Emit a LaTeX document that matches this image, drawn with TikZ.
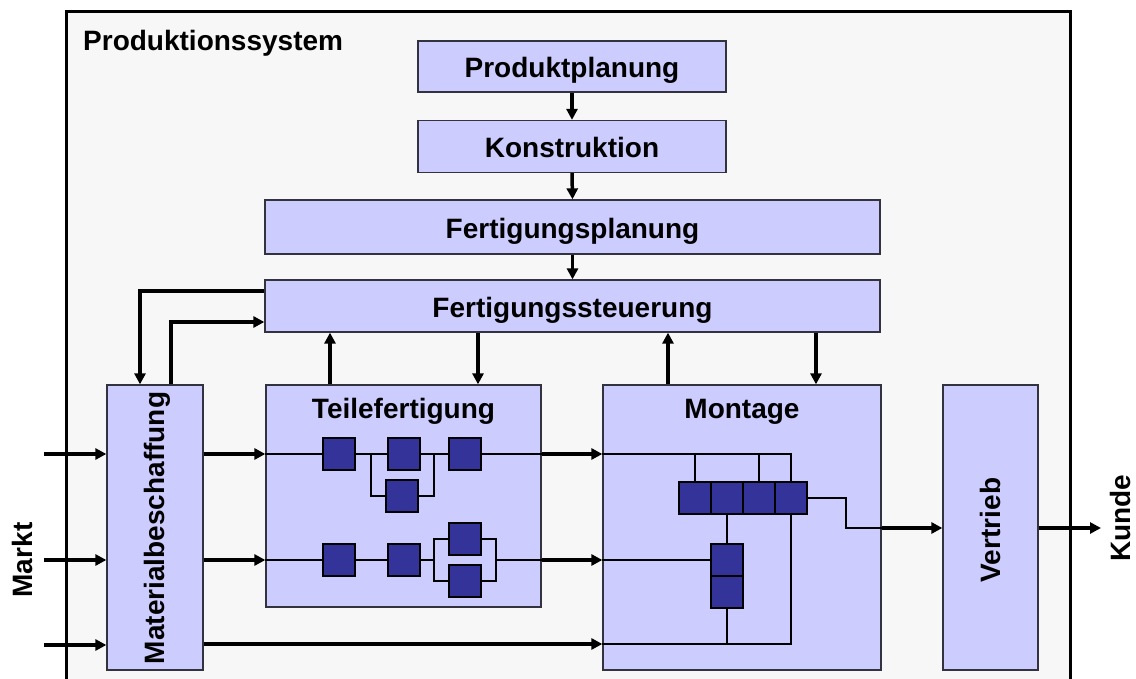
\documentclass[tikz,border=0pt]{standalone}
\usepackage{fontspec}
\setmainfont{Liberation Sans}
\usetikzlibrary{arrows.meta}
\definecolor{lavender}{HTML}{CCCCFF}
\definecolor{cellblue}{HTML}{333399}
\definecolor{sysbg}{HTML}{F7F7F7}
\definecolor{edge}{HTML}{333340}
\newcommand{\lblfont}{\fontsize{28}{31}\selectfont\bfseries}
\tikzset{
  unit/.style={draw=edge, line width=1.3pt, fill=lavender, inner sep=0pt, font=\lblfont,
    text height=25pt, text depth=2pt},
  cell/.style={draw=black, line width=1.2pt, fill=cellblue, minimum width=32pt, minimum height=32pt, inner sep=0pt},
  flow/.style={line width=3.5pt, -{Triangle[length=11pt,width=11pt]}},
  wire/.style={line width=1.4pt},
  caption/.style={font=\lblfont, inner sep=0pt}
}
\begin{document}
\begin{tikzpicture}[x=1pt,y=-1pt]
\useasboundingbox (0,0) rectangle (1136,679);
\clip (0,0) rectangle (1136,679);
\fill[white] (0,0) rectangle (1136,679);
% system frame
\draw[line width=3pt, fill=sysbg] (66,12) rectangle (1070,720);
\node[caption, anchor=base west] (sys) at (83,51) {Produktionssystem};

% planning chain
\node[unit, minimum width=308pt, minimum height=51pt] (pp) at (572,66.5) {Produktplanung};
\node[unit, minimum width=308pt, minimum height=52pt] (ko) at (572,146.5) {Konstruktion};
\node[unit, minimum width=615pt, minimum height=54pt] (fp) at (572.5,227) {Fertigungsplanung};
\node[unit, minimum width=615pt, minimum height=52pt] (fs) at (572.5,306) {Fertigungssteuerung};

% operational units
\node[unit, minimum width=96pt, minimum height=285pt] (mb) at (155,527.5) {};
\node[caption, rotate=90] (mbl) at (157,528) {Materialbeschaffung};
\node[unit, minimum width=275pt, minimum height=222pt] (tf) at (403.5,496) {};
\node[caption, anchor=base] (tfl) at (403.5,418) {Teilefertigung};
\node[unit, minimum width=278pt, minimum height=285pt] (mo) at (742,527.5) {};
\node[caption, anchor=base] (mol) at (742,418) {Montage};
\node[unit, minimum width=95pt, minimum height=285pt] (ve) at (990.5,527.5) {};
\node[caption, rotate=90] (vel) at (990,530) {Vertrieb};

% outside labels
\node[caption, rotate=90] (markt) at (22,560) {Markt};
\node[caption, rotate=90] (kunde) at (1120,518) {Kunde};
\coordinate (in1) at (44,454);
\coordinate (in2) at (44,560);
\coordinate (in3) at (44,645);
\coordinate (out) at (1101,528);

% parts manufacturing: line 1
\draw[wire] (tf.west |- in1) -- (tf.east |- in1);
\draw[wire] (371,454) |- (434,496) -- (434,454);
% parts manufacturing: line 2
\draw[wire] (tf.west |- in2) -- (434,560);
\draw[wire] (434,539) rectangle (496,581);
\draw[wire] (496,560) -- (tf.east |- in2);
\node[cell] (t1) at (339,454) {};
\node[cell] (t2) at (404,454) {};
\node[cell] (t3) at (465,454) {};
\node[cell] (t4) at (402,496) {};
\node[cell] (t5) at (339,560) {};
\node[cell] (t6) at (404,560) {};
\node[cell] (t7) at (465,539) {};
\node[cell] (t8) at (465,581) {};

% assembly
\node[cell] (m1) at (695,498) {};
\node[cell] (m2) at (727,498) {};
\node[cell] (m3) at (759,498) {};
\node[cell] (m4) at (791,498) {};
\node[cell] (m5) at (727,560) {};
\node[cell] (m6) at (727,592) {};
\draw[wire] (mo.west |- in1) -- (m4.center |- in1) -- (m4.north);
\draw[wire] (m1.center |- in1) -- (m1.north);
\draw[wire] (m3.center |- in1) -- (m3.north);
\draw[line width=2.4pt] (m2.south) -- (m5.north);
\draw[wire] (mo.west |- m5) -- (m5.west);
\draw[wire] (m6.south) -- (m6.center |- in3) ;
\draw[wire] (mo.west |- 0,644) -- (m4.center |- 0,644) -- (m4.south);
\draw[wire] (m4.east) -- (846,498) |- (mo.east |- out);

% material flow
\draw[flow] (in1) -- (mb.west |- in1);
\draw[flow] (in2) -- (mb.west |- in2);
\draw[flow] (in3) -- (mb.west |- in3);
\draw[flow] (mb.east |- in1) -- (tf.west |- in1);
\draw[flow] (mb.east |- in2) -- (tf.west |- in2);
\draw[flow] (mb.east |- 0,644) -- (mo.west |- 0,644);
\draw[flow] (tf.east |- in1) -- (mo.west |- in1);
\draw[flow] (tf.east |- in2) -- (mo.west |- in2);
\draw[flow] (mo.east |- out) -- (ve.west |- out);
\draw[flow] (ve.east |- out) -- (out);

% information flow
\draw[flow] (pp.south) -- (ko.north);
\draw[flow] (ko.south) -- (fp.north);
\draw[flow] (fp.south) -- (fs.north);
\draw[flow] (fs.west |- 0,291) -| (mb.north -| 140,0);
\draw[flow] (mb.north -| 171,0) |- (fs.west |- 0,322);
\draw[flow] (tf.north -| 330,0) -- (fs.south -| 330,0);
\draw[flow] (fs.south -| 478,0) -- (tf.north -| 478,0);
\draw[flow] (mo.north -| 668,0) -- (fs.south -| 668,0);
\draw[flow] (fs.south -| 816,0) -- (mo.north -| 816,0);
\end{tikzpicture}
\end{document}
